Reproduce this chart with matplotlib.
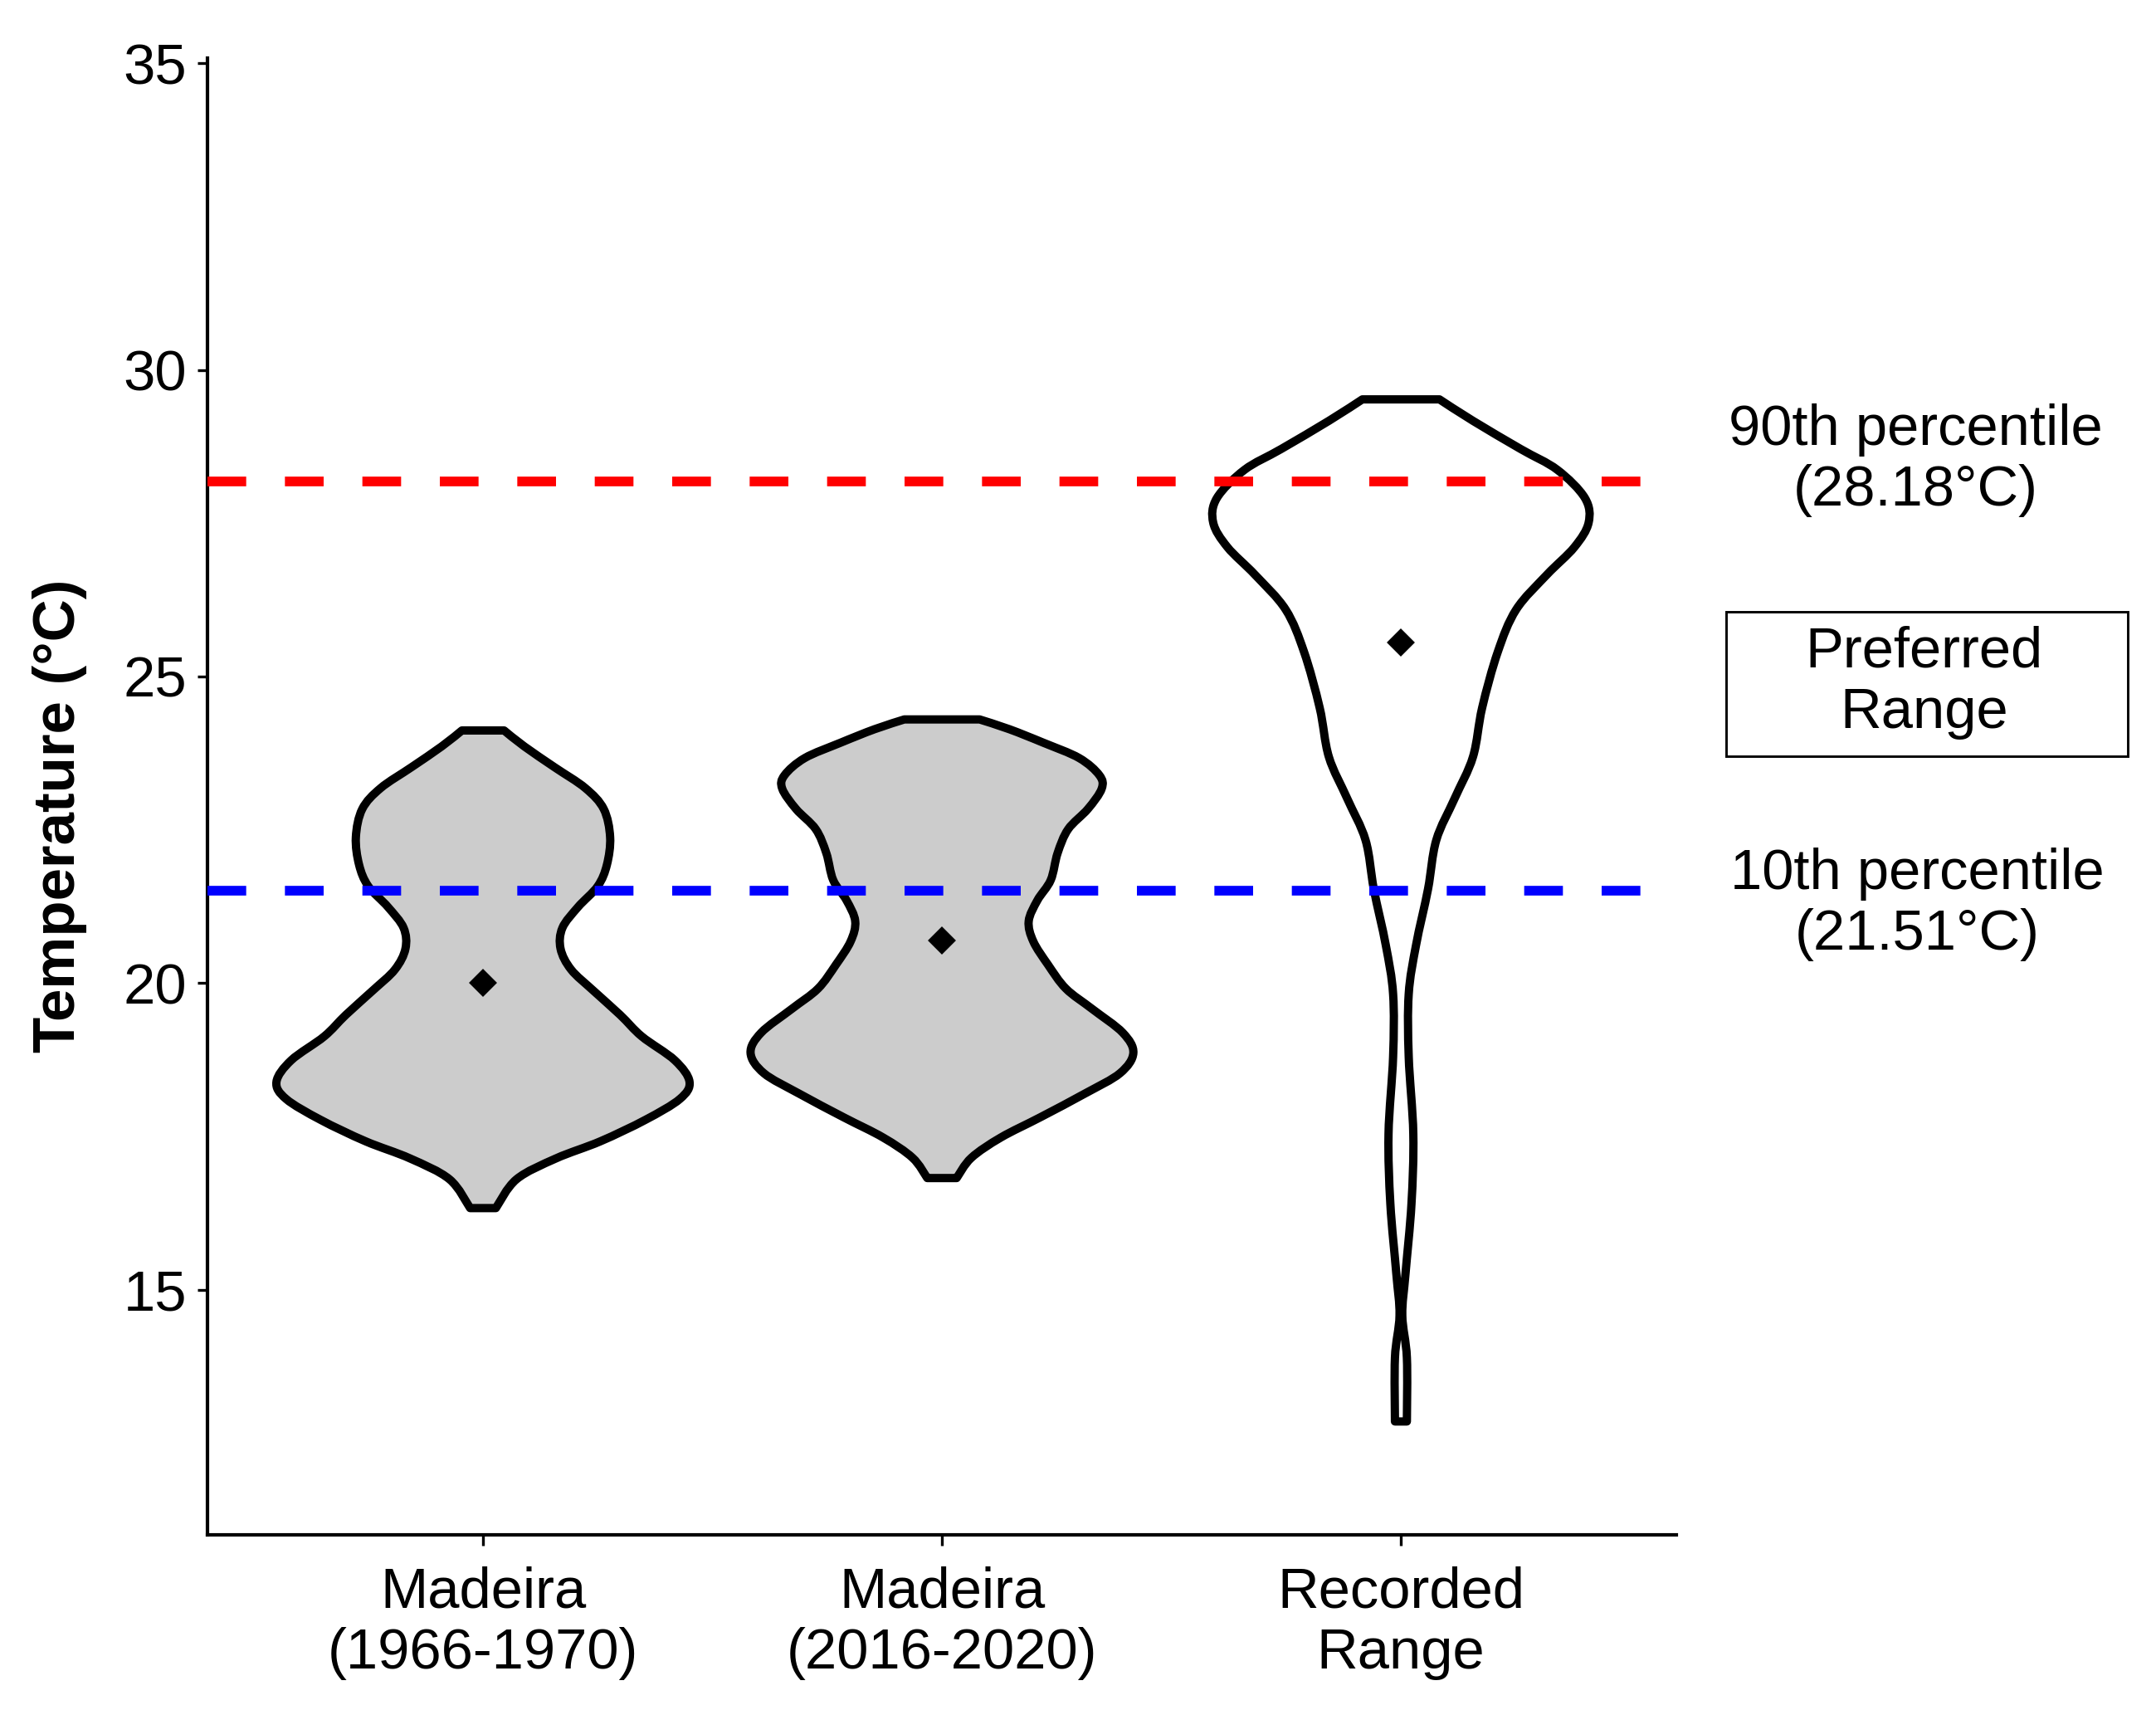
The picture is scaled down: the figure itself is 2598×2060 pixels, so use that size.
import numpy as np
import matplotlib.pyplot as plt
from matplotlib.patches import Rectangle, PathPatch
from matplotlib.path import Path

plt.rcParams['font.family'] = ['Liberation Sans', 'DejaVu Sans']

# categories and x labels
categories = ["Madeira\n(1966-1970)", "Madeira\n(2016-2020)", "Recorded\nRange"]
fills = ["#cccccc", "#cccccc", "white"]

# violin outlines: temperature levels and half widths
v1_temp = [24.12, 23.86, 23.52, 23.18, 22.84, 22.38, 21.93, 21.58, 21.24, 20.90, 20.56, 20.22,
           19.88, 19.48, 19.13, 18.74, 18.39, 18.11, 17.77, 17.42, 17.14, 16.80, 16.33]
v1_half = [0.046, 0.090, 0.156, 0.223, 0.263, 0.277, 0.270, 0.250, 0.207, 0.173, 0.169, 0.192,
           0.240, 0.299, 0.346, 0.418, 0.450, 0.429, 0.354, 0.256, 0.159, 0.073, 0.028]

v2_temp = [24.30, 24.14, 23.92, 23.67, 23.39, 23.17, 22.84, 22.51, 22.12, 21.68, 21.35, 21.01,
           20.68, 20.30, 19.91, 19.58, 19.19, 18.86, 18.53, 18.20, 17.81, 17.48, 17.15, 16.82]
v2_half = [0.082, 0.147, 0.221, 0.299, 0.343, 0.348, 0.318, 0.275, 0.252, 0.237, 0.208, 0.189,
           0.199, 0.231, 0.270, 0.327, 0.394, 0.417, 0.388, 0.312, 0.214, 0.128, 0.064, 0.032]

v3_temp = [29.52, 29.17, 28.71, 28.37, 27.91, 27.51, 27.11, 26.66, 26.09, 25.40, 24.49, 23.69,
           23.01, 22.33, 21.53, 20.62, 19.82, 18.80, 17.54, 16.40, 15.26, 14.58, 13.89, 12.85]
v3_half = [0.084, 0.157, 0.261, 0.341, 0.401, 0.409, 0.378, 0.318, 0.251, 0.211, 0.177, 0.157,
           0.117, 0.077, 0.059, 0.033, 0.017, 0.017, 0.027, 0.023, 0.010, 0.003, 0.013, 0.013]

means = [20.0, 20.7, 25.55]

p90 = 28.18
p10 = 21.51


def smooth_side(pts):
    # catmull-rom through the read points, as bezier segments
    pts = np.asarray(pts, dtype=float)
    ext = np.vstack([pts[0], pts, pts[-1]])
    verts, codes = [], []
    for i in range(len(pts) - 1):
        p0, p1, p2, p3 = ext[i], ext[i + 1], ext[i + 2], ext[i + 3]
        c1 = p1 + (p2 - p0) / 6.0
        c2 = p2 - (p3 - p1) / 6.0
        verts += [c1, c2, p2]
        codes += [Path.CURVE4] * 3
    return verts, codes


def violin_path(pos, temp, half):
    t = np.asarray(temp)
    h = np.asarray(half)
    right = np.column_stack([pos + h, t])
    left = np.column_stack([pos - h, t])[::-1]
    verts = [right[0]]
    codes = [Path.MOVETO]
    v, c = smooth_side(right)
    verts += v
    codes += c
    verts.append(left[0])
    codes.append(Path.LINETO)
    v, c = smooth_side(left)
    verts += v
    codes += c
    verts.append(right[0])
    codes.append(Path.CLOSEPOLY)
    return Path(verts, codes)


fig = plt.figure(figsize=(8.66, 6.8667), dpi=300)
ax = fig.add_axes([0.0963, 0.1024, 0.6812, 0.8634])

profiles = [(v1_temp, v1_half), (v2_temp, v2_half), (v3_temp, v3_half)]
for i, (t, h) in enumerate(profiles):
    patch = PathPatch(violin_path(i + 1, t, h), facecolor=fills[i], edgecolor="black",
                      linewidth=2.4, joinstyle="round", zorder=2)
    ax.add_patch(patch)

ax.axhline(p90, color="red", linewidth=2.8, dashes=(4, 4), zorder=3)
ax.axhline(p10, color="blue", linewidth=2.8, dashes=(4, 4), zorder=3)

ax.plot([1, 2, 3], means, linestyle="none", marker="D", markersize=4.8,
        color="black", zorder=4)

# annotations outside the panel
ax.text(4.121, 28.52, "90th percentile\n(28.18°C)", ha="center", va="center",
        fontsize=16.5, linespacing=1.18, clip_on=False)
ax.text(4.14, 24.9, "Preferred\nRange", ha="center", va="center",
        fontsize=16.5, linespacing=1.18, clip_on=False)
ax.text(4.125, 21.28, "10th percentile\n(21.51°C)", ha="center", va="center",
        fontsize=16.5, linespacing=1.18, clip_on=False)
ax.add_patch(Rectangle((3.708, 23.70), 0.875, 2.35, fill=False, edgecolor="black",
                       linewidth=0.7, clip_on=False))

ax.set_xlim(0.4, 3.6)
ax.set_ylim(11.0, 35.08)
ax.set_xticks([1, 2, 3])
ax.set_xticklabels(categories, fontsize=16.5, linespacing=1.18)
ax.set_yticks([15, 20, 25, 30, 35])
ax.tick_params(axis="y", labelsize=16.5, length=3, width=0.8, pad=3)
ax.tick_params(axis="x", length=3, width=0.8, pad=6)
ax.set_ylabel("Temperature (°C)", fontsize=17, fontweight="bold")
ax.yaxis.set_label_coords(-0.082, 0.487)

for s in ["top", "right"]:
    ax.spines[s].set_visible(False)
for s in ["left", "bottom"]:
    ax.spines[s].set_linewidth(1.0)

fig.savefig("out.png", dpi=300)
